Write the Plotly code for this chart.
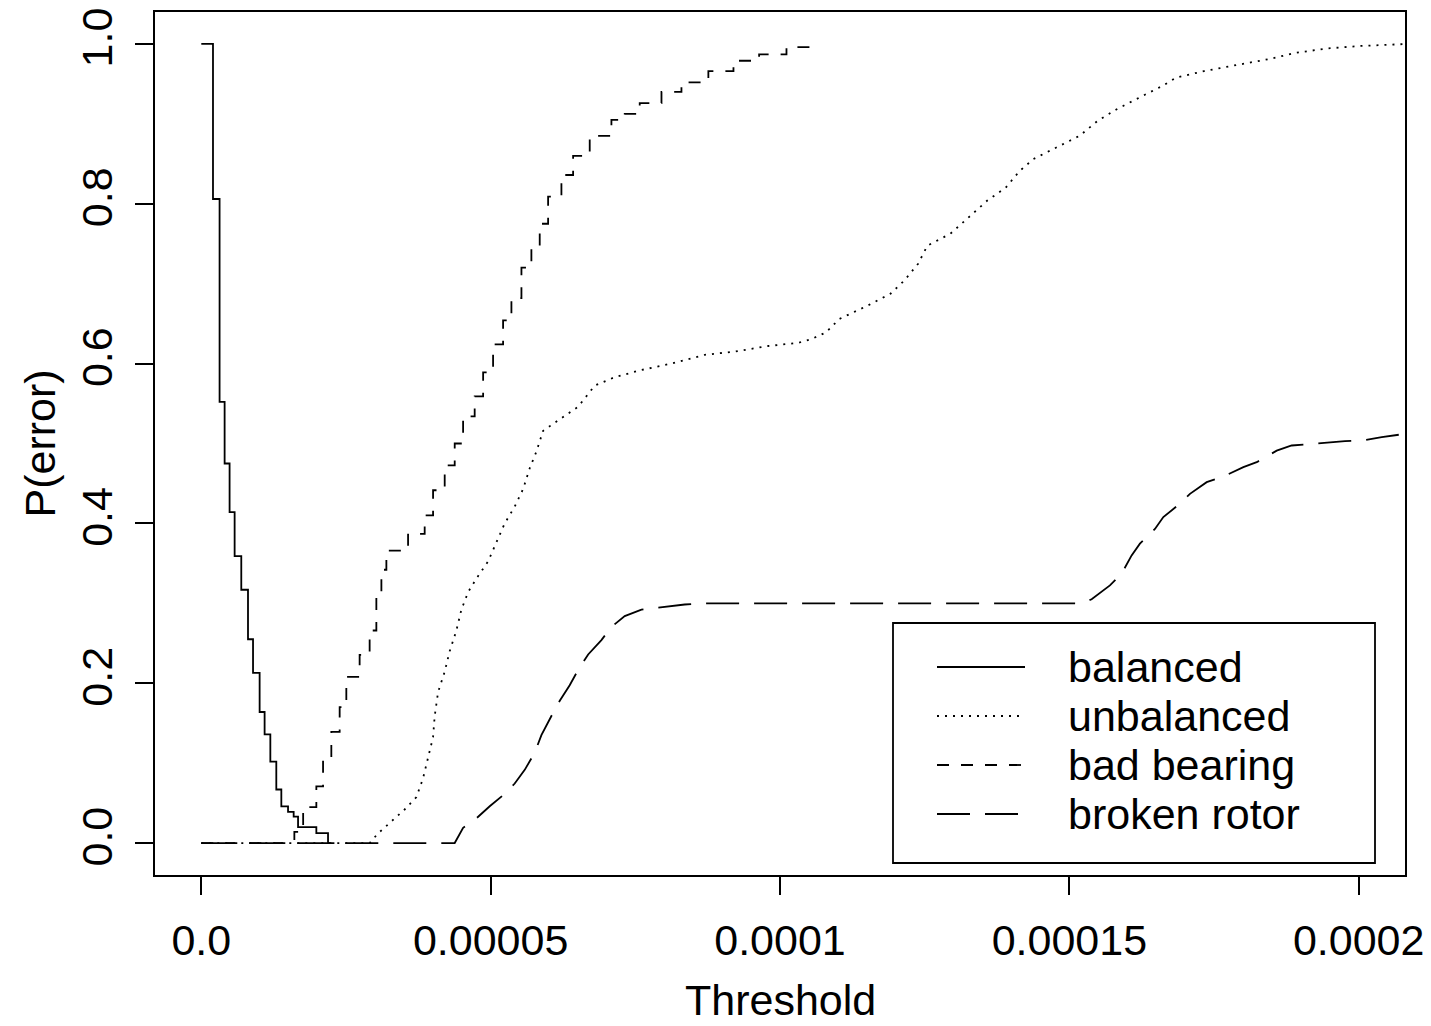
import plotly.graph_objects as go

# ---- data (threshold in units of 1e-6) ----
balanced_x = [0.0, 2.02, 3.16, 4.03, 4.89, 5.76, 6.91, 8.07, 8.94, 10.08, 10.94, 11.93,
              12.96, 13.83, 14.99, 15.96, 16.72, 19.88, 21.9, 23.0]
balanced_y = [1.0, 0.806, 0.552, 0.475, 0.414, 0.359, 0.317, 0.255, 0.213, 0.164, 0.136, 0.102,
              0.067, 0.046, 0.039, 0.033, 0.020, 0.0125, 0.0, 0.0]

unbalanced_x = [0.0, 29.09, 30.54, 32.84, 35.14, 37.17, 38.32, 39.19, 40.05, 40.33, 40.92, 42.06,
                42.92, 44.08, 44.94, 46.10, 47.54, 49.56, 51.29, 52.43, 54.16, 55.61, 56.75,
                57.91, 59.07, 61.66, 65.12, 67.99, 71.44, 76.06, 81.24, 87.00, 92.19, 97.96,
                103.15, 105.55, 107.93, 110.29, 115.13, 119.10, 121.49, 123.87, 125.46, 129.44,
                132.64, 135.82, 138.98, 141.40, 143.79, 147.76, 151.75, 154.94, 158.11, 162.11,
                166.08, 168.49, 173.26, 178.05, 184.41, 189.20, 194.76, 200.35, 208.3, 215.0]
unbalanced_y = [0.0, 0.0, 0.012, 0.027, 0.042, 0.0575, 0.081, 0.107, 0.1325, 0.159, 0.189, 0.2145,
                0.24, 0.266, 0.292, 0.314, 0.331, 0.3525, 0.3825, 0.40, 0.421, 0.443, 0.469,
                0.49, 0.516, 0.529, 0.546, 0.5725, 0.583, 0.592, 0.60, 0.611, 0.615, 0.622,
                0.626, 0.631, 0.639, 0.656, 0.6725, 0.6875, 0.704, 0.725, 0.7475, 0.7625,
                0.783, 0.804, 0.82, 0.841, 0.856, 0.870, 0.885, 0.904, 0.918, 0.933,
                0.9475, 0.958, 0.966, 0.9725, 0.981, 0.989, 0.9945, 0.9975, 1.0, 1.0]

bearing_x = [0.0, 16.08, 17.6, 19.88, 21.04, 22.47, 23.91, 25.06, 27.36, 29.09, 30.25, 31.12,
             31.98, 35.73, 38.60, 40.05, 42.06, 43.79, 45.24, 47.24, 48.70, 50.42, 52.15,
             53.59, 55.32, 57.04, 58.48, 59.93, 62.23, 64.25, 67.12, 70.87, 73.17, 75.76,
             79.52, 82.97, 87.62, 91.96, 96.39, 101.12, 105.55, 106.3]
bearing_y = [0.0, 0.014, 0.045, 0.071, 0.105, 0.139, 0.17, 0.208, 0.2355, 0.266, 0.3075, 0.342,
             0.366, 0.387, 0.41, 0.4415, 0.4725, 0.50, 0.534, 0.559, 0.589, 0.624, 0.654,
             0.682, 0.72, 0.7475, 0.775, 0.809, 0.836, 0.86, 0.885, 0.905, 0.9125, 0.926,
             0.94, 0.952, 0.966, 0.979, 0.987, 0.996, 1.0, 1.0]

rotor_x = [0.0, 43.79, 45.24, 47.24, 49.84, 52.43, 54.16, 55.89, 57.61, 58.77, 60.50, 61.94,
           63.66, 65.12, 66.85, 69.14, 70.87, 73.17, 76.06, 80.09, 83.54, 86.43, 152.12,
           153.85, 157.01, 159.03, 160.76, 162.19, 164.79, 166.24, 169.11, 170.84, 173.73,
           176.61, 180.07, 182.37, 185.83, 188.42, 193.03, 197.63, 200.81, 203.98, 208.0, 215.0]
rotor_y = [0.0, 0.0, 0.019, 0.029, 0.046, 0.0615, 0.0745, 0.0916, 0.113, 0.135, 0.159, 0.178,
           0.1975, 0.2166, 0.236, 0.254, 0.2705, 0.284, 0.292, 0.296, 0.2985, 0.30, 0.30,
           0.305, 0.3225, 0.337, 0.36, 0.3746, 0.393, 0.408, 0.4246, 0.437, 0.4516,
           0.4587, 0.4704, 0.4766, 0.491, 0.4975, 0.5004, 0.503, 0.504, 0.508, 0.512, 0.515]

series_names = ["balanced", "unbalanced", "bad bearing", "broken rotor"]
x_tickvals = [0, 50, 100, 150, 200]
x_ticktext = ["0.0", "0.00005", "0.0001", "0.00015", "0.0002"]
y_tickvals = [0.0, 0.2, 0.4, 0.6, 0.8, 1.0]
y_ticktext = ["0.0", "0.2", "0.4", "0.6", "0.8", "1.0"]

# ---- styles ----
OFF = 8  # page body margin
W, H = 1431 - OFF, 1026 - OFF
# plot-box edges in screenshot pixels
PL, PR, PT, PB = 155, 1405, 12, 875
L, R, T, B = PL - OFF, PR - OFF, PT - OFF, PB - OFF
FONT = "Liberation Sans, Arial, Helvetica, sans-serif"
FS = 43
dashes = ["solid", "2px,6px", "12px,12px", "33px,15px"]
shapes_line = ["hv", "linear", "hv", "linear"]

fig = go.Figure()
data = [(balanced_x, balanced_y), (unbalanced_x, unbalanced_y),
        (bearing_x, bearing_y), (rotor_x, rotor_y)]
for (xs, ys), name, d, sh in zip(data, series_names, dashes, shapes_line):
    fig.add_trace(go.Scatter(x=xs, y=ys, mode="lines", name=name, showlegend=False,
                             line=dict(color="black", width=1.8, dash=d, shape=sh)))

def px2paper_x(px):
    return (px - PL) / (PR - PL)

def px2paper_y(py):
    return (PB - py) / (PB - PT)

# manual legend (R style)
shapes = [dict(type="rect", xref="paper", yref="paper",
               x0=px2paper_x(893), x1=px2paper_x(1375),
               y0=px2paper_y(863), y1=px2paper_y(623),
               line=dict(color="black", width=1.8), fillcolor="white", layer="above")]
annotations = []
row_y = [667, 716, 765, 814]
for name, d, ry in zip(series_names, dashes, row_y):
    shapes.append(dict(type="line", xref="paper", yref="paper",
                       x0=px2paper_x(937), x1=px2paper_x(1025),
                       y0=px2paper_y(ry), y1=px2paper_y(ry),
                       line=dict(color="black", width=1.8, dash=d), layer="above"))
    annotations.append(dict(text=name, xref="paper", yref="paper",
                            x=px2paper_x(1066), y=px2paper_y(ry),
                            xanchor="left", yanchor="middle", showarrow=False,
                            font=dict(family=FONT, size=FS, color="black")))

annotations.append(dict(text="Threshold", xref="paper", yref="paper",
                        x=0.5, y=px2paper_y(1000), xanchor="center", yanchor="middle",
                        showarrow=False, font=dict(family=FONT, size=FS, color="black")))
annotations.append(dict(text="P(error)", xref="paper", yref="paper",
                        x=px2paper_x(39), y=0.5, xanchor="center", yanchor="middle",
                        textangle=-90, showarrow=False,
                        font=dict(family=FONT, size=FS, color="black")))

fig.update_layout(
    width=W, height=H,
    margin=dict(l=L, r=W - R, t=T, b=H - B, pad=0, autoexpand=False),
    paper_bgcolor="white", plot_bgcolor="white",
    font=dict(family=FONT, size=FS, color="black"),
    shapes=shapes, annotations=annotations,
    xaxis=dict(range=[-8, 208], tickvals=x_tickvals, ticktext=x_ticktext,
               showgrid=False, zeroline=False, showline=True, mirror=True,
               linecolor="black", linewidth=1.8, ticks="outside", ticklen=18,
               tickwidth=1.5, tickcolor="black", ticklabelstandoff=8, automargin=False,
               ticklabeloverflow="allow",
               tickfont=dict(family=FONT, size=FS, color="black")),
    yaxis=dict(range=[-0.04, 1.04], tickvals=y_tickvals, ticktext=y_ticktext,
               showgrid=False, zeroline=False, showline=True, mirror=True,
               linecolor="black", linewidth=1.8, ticks="outside", ticklen=18,
               tickwidth=1.5, tickcolor="black", tickangle=-90, ticklabelstandoff=6,
               automargin=False, ticklabeloverflow="allow",
               tickfont=dict(family=FONT, size=FS, color="black")),
)

fig.write_html("out.html")
